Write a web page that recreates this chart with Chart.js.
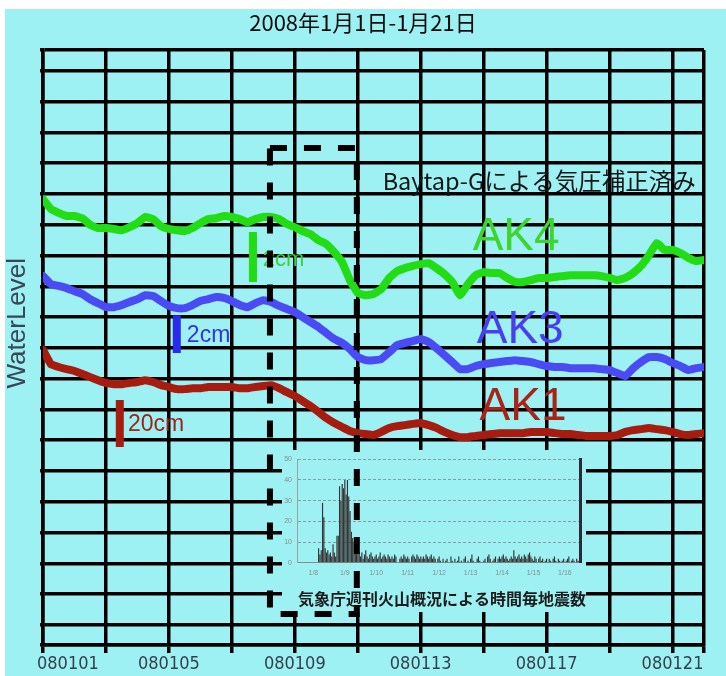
<!DOCTYPE html>
<html>
<head>
<meta charset="utf-8">
<script src="https://cdn.jsdelivr.net/npm/chart.js@4/dist/chart.umd.min.js"></script>
<style>
  html, body { margin: 0; padding: 0; background: #ffffff; }
  #stage { position: relative; width: 726px; height: 676px; overflow: hidden; }
  #paper { position: absolute; left: 5px; top: 9px; right: 0; bottom: 0; background: #9df1f3; }
  canvas { position: absolute; }
  #main { left: 0; top: 0; }
  #inset { left: 282px; top: 450px; background: #9df1f3; }
  #frame { left: 0; top: 0; }
</style>
</head>
<body>
<div id="stage">
  <div id="paper"></div>
  <canvas id="main" width="726" height="676"></canvas>
  <canvas id="inset" width="304" height="162"></canvas>
  <canvas id="frame" width="726" height="676"></canvas>
</div>
<script>
// ---- time axis: days since 2008-01-01 00:00, one sample every 6 hours ----
const sampleDays = Array.from({ length: 85 }, (_, i) => i / 4);

// ---- water level (relative units, one unit per grid row) ----
const ak4Level = [
  13.83, 13.51, 13.38, 13.28, 13.28, 13.21, 12.99, 12.89, 12.89, 12.86,
  12.82, 12.92, 13.05, 13.25, 13.18, 12.95, 12.86, 12.82, 12.79, 12.89,
  13.05, 13.18, 13.21, 13.28, 13.25, 13.18, 13.08, 13.18, 13.25, 13.25,
  13.18, 13.02, 12.92, 12.79, 12.69, 12.50, 12.37, 12.11, 11.79, 11.20,
  10.78, 10.71, 10.75, 10.91, 11.27, 11.49, 11.59, 11.66, 11.72, 11.75,
  11.59, 11.40, 11.14, 10.71, 11.07, 11.36, 11.46, 11.43, 11.43, 11.27,
  11.14, 11.14, 11.20, 11.27, 11.27, 11.30, 11.33, 11.36, 11.36, 11.36,
  11.36, 11.33, 11.27, 11.20, 11.27, 11.43, 11.66, 12.01, 12.40, 12.18,
  12.18, 12.08, 11.92, 11.82, 11.85
];
const ak3Level = [
  11.33, 11.07, 11.01, 10.94, 10.84, 10.75, 10.58, 10.45, 10.32, 10.32,
  10.39, 10.49, 10.58, 10.71, 10.68, 10.52, 10.36, 10.29, 10.29, 10.39,
  10.52, 10.58, 10.65, 10.62, 10.52, 10.39, 10.32, 10.45, 10.55, 10.49,
  10.36, 10.26, 10.16, 10.00, 9.84, 9.68, 9.48, 9.29, 9.16, 8.96,
  8.70, 8.60, 8.60, 8.64, 8.86, 9.09, 9.16, 9.22, 9.29, 9.19,
  8.99, 8.77, 8.54, 8.31, 8.31, 8.41, 8.47, 8.51, 8.54, 8.57,
  8.60, 8.57, 8.54, 8.47, 8.41, 8.38, 8.38, 8.34, 8.34, 8.34,
  8.34, 8.31, 8.28, 8.18, 8.08, 8.34, 8.54, 8.70, 8.70, 8.64,
  8.51, 8.41, 8.28, 8.34, 8.38
];
const ak1Level = [
  8.93, 8.47, 8.38, 8.31, 8.25, 8.15, 8.05, 7.95, 7.86, 7.82,
  7.82, 7.86, 7.89, 7.95, 7.89, 7.79, 7.73, 7.66, 7.66, 7.69,
  7.69, 7.73, 7.73, 7.73, 7.73, 7.69, 7.69, 7.73, 7.76, 7.79,
  7.69, 7.56, 7.44, 7.27, 7.11, 6.92, 6.72, 6.56, 6.43, 6.30,
  6.23, 6.20, 6.17, 6.27, 6.40, 6.46, 6.49, 6.53, 6.56, 6.49,
  6.40, 6.27, 6.17, 6.10, 6.10, 6.14, 6.17, 6.20, 6.23, 6.23,
  6.23, 6.23, 6.27, 6.27, 6.27, 6.23, 6.20, 6.20, 6.17, 6.14,
  6.14, 6.14, 6.14, 6.17, 6.27, 6.33, 6.36, 6.40, 6.36, 6.33,
  6.27, 6.20, 6.17, 6.20, 6.23
];

// ---- axis ticks ----
const dateLabels = ['080101', '080105', '080109', '080113', '080117', '080121'];
const dateLabelDays = [0, 4, 8, 12, 16, 20];
const gridDays = [0, 2, 4, 6, 8, 10, 12, 14, 16, 18, 20, 21];
const levelMin = -0.649;
const levelMax = 18.672;
const gridLevels = [levelMin, 0, 1, 2, 3, 4, 5, 6, 7, 8, 9, 10, 11, 12, 13, 14, 15, 16, 17, 18, levelMax];

// ---- hourly earthquake counts, 1/8 - 1/16 (JMA weekly volcanic report) ----
const quakeDayLabels = ['1/8', '1/9', '1/10', '1/11', '1/12', '1/13', '1/14', '1/15', '1/16'];
const quakesPerHour = [
  0, 0, 0, 0, 0, 0, 0, 0, 0, 0, 0, 0, 0, 0, 0, 0, 7, 4, 6, 29, 22, 7, 5, 6,
  4, 5, 3, 9, 5, 3, 13, 13, 37, 30, 38, 36, 40, 33, 40, 32, 25, 15, 12, 10, 12, 11, 6, 5,
  3, 5, 2, 4, 6, 3, 2, 4, 5, 3, 2, 3, 4, 2, 3, 5, 2, 3, 4, 3, 2, 4, 3, 2,
  3, 2, 4, 3, 0, 0, 2, 3, 2, 4, 3, 2, 3, 2, 0, 3, 4, 3, 2, 4, 3, 2, 3, 2,
  3, 2, 4, 3, 2, 3, 4, 2, 3, 2, 0, 2, 3, 1, 0, 2, 0, 1, 2, 0, 0, 3, 1, 0,
  2, 0, 1, 3, 0, 1, 0, 2, 3, 0, 1, 0, 2, 4, 1, 0, 0, 2, 3, 1, 0, 0, 1, 2,
  0, 3, 4, 2, 0, 1, 2, 3, 0, 2, 3, 2, 3, 4, 2, 3, 2, 1, 2, 3, 2, 6, 3, 2,
  3, 4, 2, 3, 2, 4, 3, 2, 4, 5, 3, 2, 1, 3, 2, 0, 2, 3, 1, 2, 0, 1, 2, 0,
  2, 1, 0, 2, 3, 1, 0, 2, 1, 0, 1, 2, 0, 1, 2, 3, 0, 1, 2, 1, 0, 2, 1, 0
];

// ---- series styling ----
const seriesStyle = [
  { name: 'AK4', level: ak4Level, color: '#22dc14' },
  { name: 'AK3', level: ak3Level, color: '#4b4bf5' },
  { name: 'AK1', level: ak1Level, color: '#a81c10' }
];

// scale bars: day, upper level, lower level
const scaleBars = [
  { day: 6.67, top: 12.76, bottom: 11.14, color: '#22dc14' },
  { day: 4.25, top: 10.06, bottom: 8.83, color: '#2a2aee' },
  { day: 2.44, top: 7.31, bottom: 5.78, color: '#a81c10' }
];

// free text placed in data coordinates (left edge, vertical middle)
const notes = [
  { text: 'Baytap-Gによる気圧補正済み', day: 10.79, level: 14.42, size: 23.5, family: '"Noto Sans CJK JP"', color: '#161616' },
  { text: 'AK4', day: 13.65, level: 12.60, size: 46, family: '"Liberation Sans"', color: '#3dd62e' },
  { text: 'AK3', day: 13.78, level: 9.58, size: 46, family: '"Liberation Sans"', color: '#4a3ff0' },
  { text: 'AK1', day: 13.87, level: 7.08, size: 46, family: '"Liberation Sans"', color: '#a82418' },
  { text: '2cm', day: 6.98, level: 11.85, size: 22, family: '"Liberation Sans"', color: '#3ccf3c' },
  { text: '2cm', day: 4.57, level: 9.38, size: 23, family: '"Liberation Sans"', color: '#3434e6' },
  { text: '20cm', day: 2.70, level: 6.49, size: 23, family: '"Liberation Sans"', color: '#9c2418' }
];

// vertical axis caption, centred at this level, left of the plot
const axisCaption = { text: 'WaterLevel', level: 9.8, offset: 25, size: 26, family: '"Liberation Sans"', color: '#3a4656' };

// dashed frame around the swarm period
const swarmFrame = { fromDay: 7.21, toDay: 9.97, topLevel: 15.49, bottomLevel: 0.36 };

const plotPad = { left: 43, right: 22, top: 50, bottom: 31 };

const notesPlugin = {
  id: 'notes',
  afterDatasetsDraw(chart) {
    const { ctx, scales: { x, y } } = chart;
    ctx.save();
    ctx.textAlign = 'left';
    ctx.textBaseline = 'middle';
    notes.forEach(n => {
      ctx.font = n.size + 'px ' + n.family;
      ctx.fillStyle = n.color;
      ctx.fillText(n.text, x.getPixelForValue(n.day), y.getPixelForValue(n.level));
    });
    ctx.translate(x.left - axisCaption.offset, y.getPixelForValue(axisCaption.level));
    ctx.rotate(-Math.PI / 2);
    ctx.textAlign = 'center';
    ctx.font = axisCaption.size + 'px ' + axisCaption.family;
    ctx.fillStyle = axisCaption.color;
    ctx.fillText(axisCaption.text, 0, 0);
    ctx.restore();
  }
};

// the first date label sits inside the plot's left edge
const firstLabelPlugin = {
  id: 'firstLabel',
  beforeDraw(chart) {
    const sx = chart.scales.x;
    const items = sx.getLabelItems();
    if (items.length) {
      items[0].options.textAlign = 'left';
      items[0].options.translation[0] = sx.left - 6;
    }
  }
};

const lineSets = seriesStyle.map(s => ({
  label: s.name,
  data: s.level.map((v, i) => ({ x: sampleDays[i], y: v })),
  borderColor: s.color,
  borderWidth: 8,
  pointRadius: 0,
  tension: 0.1,
  borderJoinStyle: 'round',
  borderCapStyle: 'round',
  fill: false
}));
const barSets = scaleBars.map(b => ({
  label: 'scale',
  data: [{ x: b.day, y: b.top }, { x: b.day, y: b.bottom }],
  borderColor: b.color,
  borderWidth: 8,
  borderCapStyle: 'butt',
  pointRadius: 0,
  fill: false
}));

new Chart(document.getElementById('main'), {
  type: 'line',
  data: { datasets: [...lineSets, ...barSets] },
  options: {
    responsive: false,
    animation: false,
    events: [],
    layout: { padding: 0 },
    plugins: {
      legend: { display: false },
      tooltip: { enabled: false },
      title: {
        display: true,
        text: '2008年1月1日-1月21日',
        color: '#0c0c0c',
        font: { family: '"Noto Sans CJK JP"', size: 22, weight: 'normal', lineHeight: 1.2 },
        padding: { top: 9, bottom: 14.6 }
      }
    },
    scales: {
      x: {
        type: 'linear',
        min: 0,
        max: 21,
        afterBuildTicks(s) { s.ticks = gridDays.map(v => ({ value: v })); },
        afterFit(s) { s.height = plotPad.bottom; },
        grid: { color: '#000', lineWidth: 3.5, tickLength: 8, drawTicks: true },
        border: { color: '#000', width: 3.5 },
        ticks: {
          autoSkip: false,
          maxRotation: 0,
          minRotation: 0,
          padding: 1,
          color: '#35404c',
          font: { family: '"Liberation Sans Narrow", "DejaVu Sans Condensed", "Liberation Sans"', size: 18 },
          callback(v) {
            const k = dateLabelDays.indexOf(v);
            return k >= 0 ? dateLabels[k] : '';
          }
        }
      },
      y: {
        min: levelMin,
        max: levelMax,
        afterBuildTicks(s) { s.ticks = gridLevels.map(v => ({ value: v })); },
        afterFit(s) { s.width = plotPad.left; },
        grid: { color: '#000', lineWidth: 3.5, tickLength: 3, drawTicks: true },
        border: { color: '#000', width: 3.5 },
        ticks: { display: false }
      },
      pad: {
        position: 'right',
        display: true,
        afterFit(s) { s.width = plotPad.right; },
        grid: { display: false, drawTicks: false },
        border: { display: false },
        ticks: { display: false }
      }
    }
  },
  plugins: [notesPlugin, firstLabelPlugin]
});

// ---- inset: hourly earthquake counts ----
new Chart(document.getElementById('inset'), {
  type: 'bar',
  data: {
    labels: quakesPerHour.map((_, i) => i),
    datasets: [{
      data: quakesPerHour,
      backgroundColor: '#353535',
      borderWidth: 0,
      barPercentage: 0.9,
      categoryPercentage: 1
    }]
  },
  options: {
    responsive: false,
    animation: false,
    events: [],
    layout: { padding: { top: 7, right: 0, left: 0, bottom: 0 } },
    plugins: {
      legend: { display: false },
      tooltip: { enabled: false },
      title: {
        display: true,
        position: 'bottom',
        align: 'end',
        text: '気象庁週刊火山概況による時間毎地震数',
        color: '#1c1c1c',
        font: { family: '"Noto Sans CJK JP"', size: 16, weight: 'bold', lineHeight: 1.2 },
        padding: { top: 4, bottom: 3 }
      }
    },
    scales: {
      x: {
        afterFit(s) { s.height = 23; },
        grid: { display: false, drawTicks: false },
        border: { color: '#8c8c8c', width: 1 },
        ticks: {
          autoSkip: false,
          maxRotation: 0,
          minRotation: 0,
          padding: 6,
          color: '#8c8c8c',
          font: { family: '"Liberation Sans"', size: 7 },
          callback(v, i) { return i % 24 === 12 ? quakeDayLabels[Math.floor(i / 24)] : ''; }
        }
      },
      y: {
        min: 0,
        max: 50,
        afterFit(s) { s.width = 15; },
        grid: { color: '#8a9a9a', lineWidth: 1, drawTicks: false },
        border: { color: '#a0a0a0', width: 1, dash: [3, 2] },
        ticks: { stepSize: 10, padding: 5, color: '#8c8c8c', font: { family: '"Liberation Sans"', size: 7 } }
      },
      edge: {
        position: 'right',
        display: true,
        afterFit(s) { s.width = 6; },
        grid: { display: false, drawTicks: false },
        border: { color: '#2a2a3a', width: 3 },
        ticks: { display: false }
      }
    }
  }
});

// ---- overlay: dashed frame drawn above the inset ----
new Chart(document.getElementById('frame'), {
  type: 'line',
  data: {
    datasets: [{
      data: [
        { x: swarmFrame.fromDay, y: swarmFrame.topLevel },
        { x: swarmFrame.toDay, y: swarmFrame.topLevel },
        { x: swarmFrame.toDay, y: swarmFrame.bottomLevel },
        { x: swarmFrame.fromDay, y: swarmFrame.bottomLevel },
        { x: swarmFrame.fromDay, y: swarmFrame.topLevel }
      ],
      borderColor: '#000',
      borderWidth: 6,
      borderDash: [17, 17],
      pointRadius: 0,
      tension: 0,
      fill: false
    }]
  },
  options: {
    responsive: false,
    animation: false,
    events: [],
    layout: { padding: plotPad },
    plugins: { legend: { display: false }, tooltip: { enabled: false } },
    scales: {
      x: { type: 'linear', display: false, min: 0, max: 21 },
      y: { display: false, min: levelMin, max: levelMax }
    }
  }
});
</script>
</body>
</html>
